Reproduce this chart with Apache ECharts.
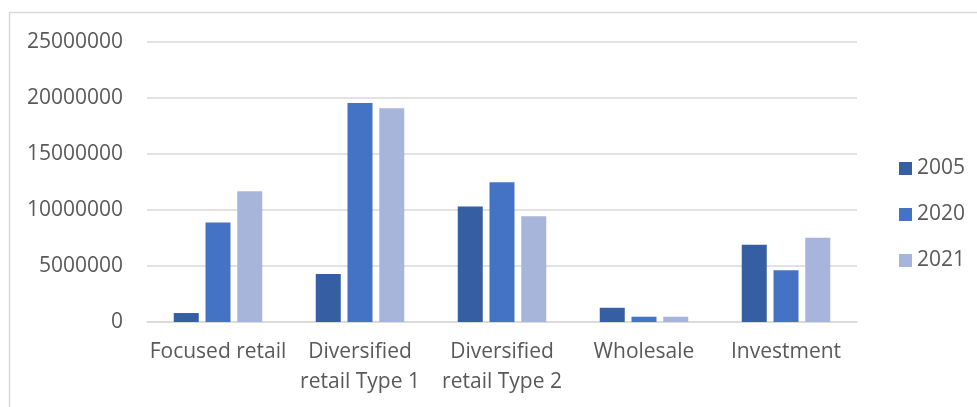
<!DOCTYPE html>
<html>
<head>
<meta charset="utf-8">
<script src="https://cdn.jsdelivr.net/npm/echarts@6/dist/echarts.min.js"></script>
<style>
  html, body { margin: 0; padding: 0; background: #fff; }
  #chart { width: 977px; height: 407px; }
</style>
</head>
<body>
<div id="chart"></div>
<script>
// Categories and yearly values
var categories = ['Focused retail', 'Diversified\nretail Type 1', 'Diversified\nretail Type 2', 'Wholesale', 'Investment'];
var years = ['2005', '2020', '2021'];
var values2005 = [800000, 4290000, 10310000, 1270000, 6900000];
var values2020 = [8890000, 19560000, 12470000, 470000, 4620000];
var values2021 = [11670000, 19080000, 9450000, 470000, 7520000];
var yTicks = [0, 5000000, 10000000, 15000000, 20000000, 25000000];

var colors = ['#365ea3', '#4472c4', '#a8b5da'];
var seriesValues = [values2005, values2020, values2021];
var fontFamily = '"Open Sans", "Noto Sans", sans-serif';
var textColor = '#595959';

var chart = echarts.init(document.getElementById('chart'), null, { renderer: 'canvas' });

chart.setOption({
  backgroundColor: '#ffffff',
  animation: false,
  graphic: [{
    type: 'rect',
    shape: { x: 9.5, y: 12.5, width: 1000, height: 500 },
    style: { fill: 'none', stroke: '#d9d9d9', lineWidth: 1.5 },
    silent: true
  }],
  grid: { left: 147, right: 120, top: 42, bottom: 85 },
  legend: {
    orient: 'vertical',
    left: 894,
    top: 153,
    itemWidth: 13,
    itemHeight: 13,
    itemGap: 25,
    icon: 'rect',
    data: years,
    textStyle: { fontFamily: fontFamily, fontSize: 21, color: textColor }
  },
  xAxis: {
    type: 'category',
    data: categories,
    axisLine: { lineStyle: { color: '#d9d9d9', width: 1.5 } },
    axisTick: { show: false },
    axisLabel: {
      margin: 15,
      interval: 0,
      fontFamily: fontFamily,
      fontSize: 21,
      color: textColor,
      lineHeight: 30
    }
  },
  yAxis: {
    type: 'value',
    min: yTicks[0],
    max: yTicks[yTicks.length - 1],
    interval: yTicks[1] - yTicks[0],
    axisLine: { show: false },
    axisTick: { show: false },
    splitLine: { lineStyle: { color: '#d9d9d9', width: 1.5 } },
    axisLabel: {
      margin: 24,
      fontFamily: fontFamily,
      fontSize: 21,
      color: textColor,
      formatter: function (v) { return String(v); }
    }
  },
  series: years.map(function (y, i) {
    return {
      name: y,
      type: 'bar',
      data: seriesValues[i],
      barWidth: 25,
      barGap: '27%',
      itemStyle: { color: colors[i] }
    };
  })
});
</script>
</body>
</html>
